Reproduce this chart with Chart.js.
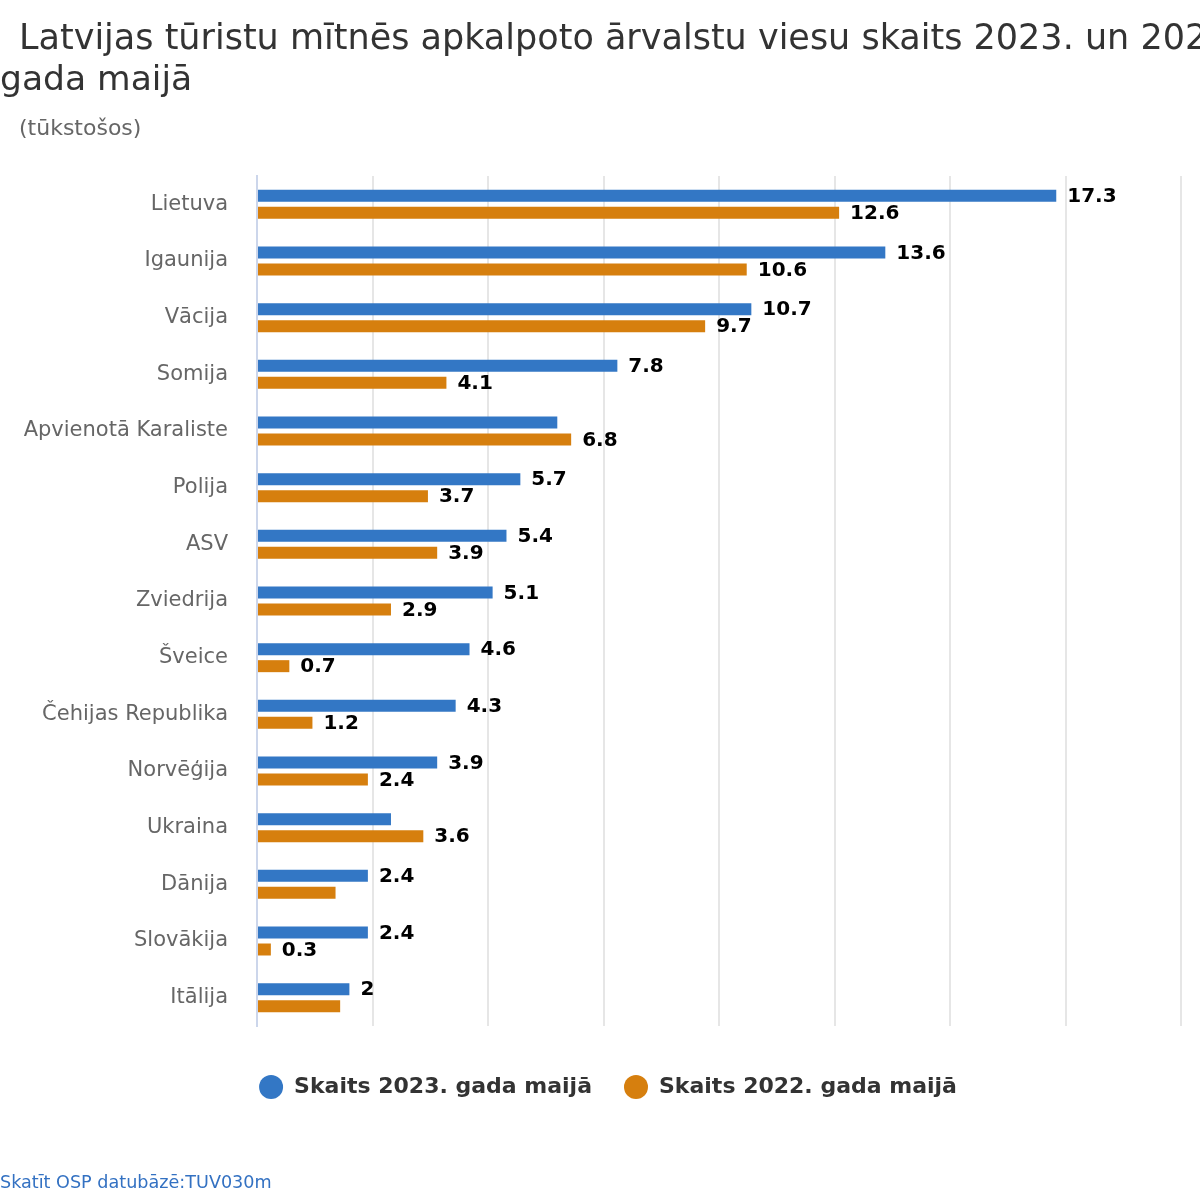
<!DOCTYPE html>
<html>
<head>
<meta charset="utf-8">
<script src="https://cdn.jsdelivr.net/npm/chart.js@4/dist/chart.umd.min.js"></script>
<style>
  body { margin: 0; background: #fff; }
  #wrap { position: relative; width: 1200px; height: 1200px; overflow: hidden; font-family: "DejaVu Sans", sans-serif; }
  #wrap canvas { position: absolute; left: 0; top: 0; }
  .txt { position: absolute; white-space: nowrap; }
  #t1 { left: 19px; top: 17px; font-size: 35px; line-height: 40px; color: #333; }
  #t2 { left: 0; top: 58px; font-size: 34.5px; line-height: 40px; color: #333; }
  #sub { left: 19px; top: 115px; font-size: 22px; line-height: 26px; color: #666; }
  #foot { left: 0; top: 1171px; font-size: 17.6px; line-height: 22px; color: #3371c2; }
</style>
</head>
<body>
<div id="wrap">
  <canvas id="mycanvas" width="1200" height="1200"></canvas>
  <div class="txt" id="t1">Latvijas tūristu mītnēs apkalpoto ārvalstu viesu skaits 2023. un 2022.</div>
  <div class="txt" id="t2">gada maijā</div>
  <div class="txt" id="sub">(tūkstošos)</div>
  <div class="txt" id="foot">Skatīt OSP datubāzē:TUV030m</div>
</div>
<script>
const countries = [
  "Lietuva",
  "Igaunija",
  "Vācija",
  "Somija",
  "Apvienotā Karaliste",
  "Polija",
  "ASV",
  "Zviedrija",
  "Šveice",
  "Čehijas Republika",
  "Norvēģija",
  "Ukraina",
  "Dānija",
  "Slovākija",
  "Itālija",
];

const guests2023 = [17.3, 13.6, 10.7, 7.8, 6.5, 5.7, 5.4, 5.1, 4.6, 4.3, 3.9, 2.9, 2.4, 2.4, 2];
const guests2022 = [12.6, 10.6, 9.7, 4.1, 6.8, 3.7, 3.9, 2.9, 0.7, 1.2, 2.4, 3.6, 1.7, 0.3, 1.8];

const seriesNames = ["Skaits 2023. gada maijā", "Skaits 2022. gada maijā"];

// value labels next to the bars; when two labels in one row collide the smaller one is dropped
const barLabels = {
  id: 'barLabels',
  afterDatasetsDraw(chart) {
    const ctx = chart.ctx;
    ctx.save();
    ctx.font = 'bold 20px "DejaVu Sans"';
    ctx.fillStyle = '#000';
    ctx.textAlign = 'left';
    ctx.textBaseline = 'middle';
    const m0 = chart.getDatasetMeta(0);
    const m1 = chart.getDatasetMeta(1);
    for (let i = 0; i < countries.length; i++) {
      const items = [m0, m1].map((meta, d) => {
        const el = meta.data[i];
        const v = chart.data.datasets[d].data[i];
        const text = String(v);
        const x = el.x + 11;
        return { v, text, x, y: el.y, end: x + ctx.measureText(text).width, show: true };
      });
      const [a, b] = items;
      if (a.x < b.end && b.x < a.end) {
        if (a.v < b.v) a.show = false; else b.show = false;
      }
      items.forEach(it => {
        if (it.show) ctx.fillText(it.text, it.x, it.y + 1);
      });
    }
    ctx.restore();
  }
};

// the legend sits a bit right of the canvas centre, under the plot
const shiftLegend = {
  id: 'shiftLegend',
  afterLayout(chart) {
    if (chart.legend) chart.legend.left = 35;
  }
};

new Chart(document.getElementById("mycanvas"), {
  type: 'bar',
  data: {
    labels: countries,
    datasets: [
      {
        label: seriesNames[0],
        data: guests2023,
        backgroundColor: '#3377c5',
        borderWidth: 0,
        categoryPercentage: 0.6,
        barPercentage: 0.706
      },
      {
        label: seriesNames[1],
        data: guests2022,
        backgroundColor: '#d67f0e',
        borderWidth: 0,
        categoryPercentage: 0.6,
        barPercentage: 0.706
      }
    ]
  },
  options: {
    indexAxis: 'y',
    responsive: false,
    animation: false,
    devicePixelRatio: 1,
    layout: {
      padding: { top: 176, right: 19, bottom: 92, left: 0 }
    },
    plugins: {
      title: { display: false },
      tooltip: { enabled: false },
      legend: {
        display: true,
        position: 'bottom',
        labels: {
          usePointStyle: true,
          pointStyle: 'circle',
          pointStyleWidth: 24,
          boxHeight: 17,
          padding: 32,
          color: '#333',
          font: { family: 'DejaVu Sans', size: 22, weight: 'bold' }
        }
      }
    },
    scales: {
      x: {
        min: 0,
        max: 20,
        ticks: { display: false, stepSize: 2.5 },
        grid: { color: '#e6e6e6', lineWidth: 2, drawTicks: false },
        border: { display: false },
        afterFit: (scale) => { scale.height = 18; }
      },
      y: {
        grid: { display: false, drawTicks: false },
        border: { display: true, color: '#ccd6eb', width: 2 },
        ticks: {
          color: '#666',
          padding: 29,
          font: { family: 'DejaVu Sans', size: 21 }
        },
        afterFit: (scale) => { scale.width = 257; }
      }
    }
  },
  plugins: [barLabels, shiftLegend]
});
</script>
</body>
</html>
